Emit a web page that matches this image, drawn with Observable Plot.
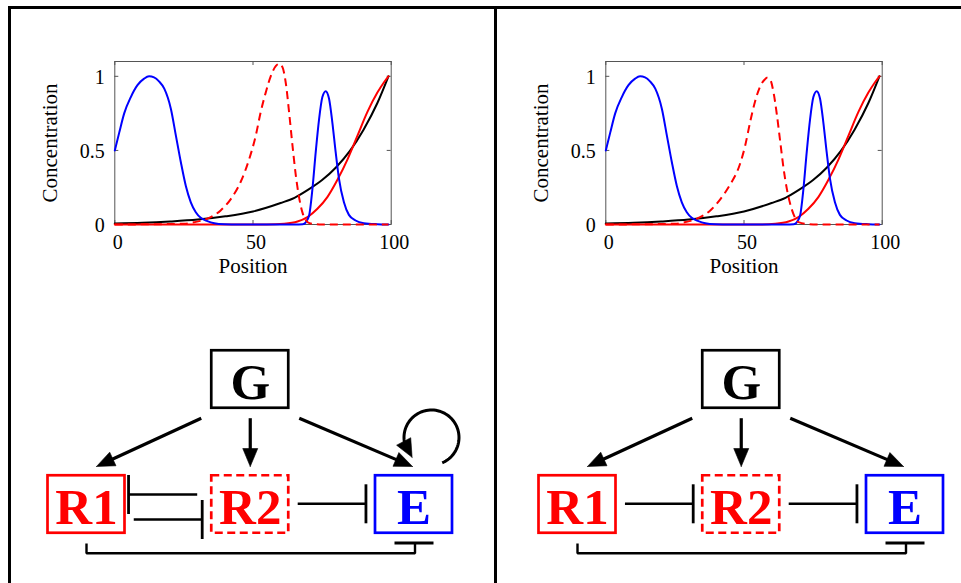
<!DOCTYPE html>
<html><head><meta charset="utf-8">
<script src="https://cdn.jsdelivr.net/npm/d3@7"></script>
<script src="https://cdn.jsdelivr.net/npm/@observablehq/plot@0.6"></script>
<style>
html,body{margin:0;padding:0;background:#fff;}
#root{position:relative;width:961px;height:583px;overflow:hidden;background:#fff;}
#plots{position:absolute;left:0;top:0;width:961px;height:583px;}
#plots svg{background:transparent !important;overflow:visible;max-width:none !important;}
#plots svg text{font-family:"Liberation Serif","Times New Roman",Times,serif !important;}
.bline{position:absolute;background:#000;}
</style></head><body>
<div id="root">
  <div id="plots"></div>
  <div class="bline" style="left:7.5px;top:6px;width:953.5px;height:3px"></div>
  <div class="bline" style="left:7.5px;top:6px;width:3px;height:577px"></div>
  <div class="bline" style="left:493.5px;top:6px;width:3px;height:577px"></div>
</div>
<script>
// ---------------- DATA ----------------
const xTicks = [0, 50, 100];
const yTicks = [0, 0.5, 1];
const xLabel = "Position";
const yLabel = "Concentration";

const blackX = [0, 10, 20, 30, 40, 50, 60, 65, 70, 75, 80, 85, 90, 95, 99];
const blackY = [0.006, 0.011, 0.02, 0.033, 0.055, 0.088, 0.145, 0.18, 0.235, 0.30, 0.385, 0.495, 0.64, 0.82, 1.0];

const redX = [0, 55, 61.3, 66.1, 69.7, 73.3, 76.9, 80.5, 84.2, 87.8, 91.4, 95.0, 97.4, 99];
const redY = [0, 0, 0.005, 0.02, 0.05, 0.106, 0.185, 0.30, 0.44, 0.60, 0.76, 0.89, 0.96, 1.0];

const blueX = [0, 1.6, 3.4, 5.8, 8.2, 10.6, 12.4, 14.2, 16.0, 17.9, 20.3, 22.1, 23.9, 25.7, 27.5, 29.3, 31.1, 33.5, 36, 39.6, 45, 55, 65, 68.0, 69.1, 70.3, 71.5, 72.7, 73.9, 75.1, 76.3, 77.5, 78.7, 79.9, 81.1, 82.9, 84.7, 87.1, 90.1, 95, 99];
const blueY = [0.50, 0.62, 0.75, 0.86, 0.94, 0.984, 1.0, 0.993, 0.966, 0.917, 0.78, 0.60, 0.42, 0.26, 0.15, 0.083, 0.045, 0.023, 0.009, 0.002, 0, 0, 0, 0.002, 0.015, 0.06, 0.24, 0.49, 0.71, 0.86, 0.90, 0.85, 0.69, 0.49, 0.31, 0.15, 0.065, 0.027, 0.009, 0.002, 0];

const dashLeftX = [0, 25, 28.7, 33.5, 38.3, 41.9, 45.6, 48.6, 51.0, 52.8, 54.6, 56.4, 58.3, 59.5, 60.7, 61.9, 63.1, 64.3, 65.5, 66.7, 67.9, 69.1, 70.5, 75, 99];
const dashLeftY = [0, 0.005, 0.015, 0.04, 0.095, 0.17, 0.29, 0.44, 0.60, 0.76, 0.89, 1.0, 1.07, 1.085, 1.06, 0.95, 0.75, 0.53, 0.33, 0.18, 0.08, 0.03, 0.008, 0, 0];

const dashRightX = [0, 25, 28.5, 33.0, 37.8, 41.4, 45.0, 48.4, 50.4, 52.2, 54.0, 55.8, 57.6, 58.3, 59.4, 60.7, 61.9, 63.1, 64.3, 65.5, 66.7, 67.9, 69.7, 75, 99];
const dashRightY = [0, 0.005, 0.015, 0.04, 0.095, 0.17, 0.27, 0.40, 0.53, 0.69, 0.83, 0.93, 0.98, 0.99, 0.98, 0.89, 0.74, 0.56, 0.38, 0.24, 0.14, 0.07, 0.016, 0, 0];

const nodeNames = ["G", "R1", "R2", "E"];
const nodeCol = [1, 0, 1, 2];
const nodeRow = [0, 1, 1, 1];
const activationsLeft = [["G", "R1"], ["G", "R2"], ["G", "E"], ["E", "E"]];
const inhibitionsLeft = [["R2", "R1"], ["R1", "R2"], ["R2", "E"], ["R1", "E"]];
const activationsRight = [["G", "R1"], ["G", "R2"], ["G", "E"]];
const inhibitionsRight = [["R1", "R2"], ["R2", "E"], ["R1", "E"]];

// ---------------- STYLE / LAYOUT ----------------
const FONT = '"Liberation Serif", "Times New Roman", Times, serif';
const AXIS_GRAY = "#555555";
const seriesColor = {black: "#000000", red: "#ff0000", blue: "#0000ff", dash: "#ff0000"};
const nodeColor = {G: "#000000", R1: "#ff0000", R2: "#ff0000", E: "#0000ff"};
const dashedNodes = new Set(["R2"]);
const tipShift = {R1: 10, R2: 0, E: -1.5};
const panelLeft = [0, 491];

const plots = document.getElementById("plots");
function place(el, left, top) {
  el.style.position = "absolute";
  el.style.left = left + "px";
  el.style.top = top + "px";
  el.style.maxWidth = "none";
  el.style.fontFamily = FONT;
  el.style.background = "transparent";
  plots.appendChild(el);
}

function chart(dashX, dashY) {
  const W = 470, H = 290, ML = 114.3, MR = 79.3, MT = 61, MB = 66;
  const FW = W - ML - MR, FH = H - MT - MB;
  const table = (key, xs, ys) => xs.map((x, i) => ({key, x, y: ys[i]}));
  const solid = [...table("black", blackX, blackY), ...table("red", redX, redY), ...table("blue", blueX, blueY)];
  const dashed = table("dash", dashX, dashY);
  return Plot.plot({
    width: W, height: H, marginLeft: ML, marginRight: MR, marginTop: MT, marginBottom: MB,
    style: {background: "transparent", fontFamily: FONT, fontSize: "20px", overflow: "visible"},
    x: {domain: [0, 100]},
    y: {domain: [0, 1.1]},
    color: {type: "identity"},
    marks: [
      Plot.frame({stroke: AXIS_GRAY, strokeWidth: 1}),
      Plot.tickX(xTicks, {x: d => d, insetTop: FH - 4, stroke: AXIS_GRAY}),
      Plot.tickX(xTicks, {x: d => d, insetBottom: FH - 4, stroke: AXIS_GRAY}),
      Plot.tickY(yTicks, {y: d => d, insetRight: FW - 4, stroke: AXIS_GRAY}),
      Plot.tickY(yTicks, {y: d => d, insetLeft: FW - 4, stroke: AXIS_GRAY}),
      Plot.line(solid, {x: "x", y: "y", z: "key", stroke: d => seriesColor[d.key], strokeWidth: 2, curve: "monotone-x"}),
      Plot.line(dashed, {x: "x", y: "y", stroke: seriesColor.dash, strokeWidth: 2, strokeDasharray: "8,5", strokeLinecap: "butt", curve: "monotone-x"}),
      Plot.axisX({ticks: xTicks, tickSize: 0, tickPadding: 10, dx: 3, fontSize: 20, fontFamily: FONT, label: null, tickFormat: d => String(d)}),
      Plot.axisY({ticks: yTicks, tickSize: 0, tickPadding: 10, dy: 1, fontSize: 20, fontFamily: FONT, label: null, tickFormat: d => String(d)}),
      Plot.text([xLabel], {frameAnchor: "bottom", text: d => d, dy: 42, fontSize: 21, fontFamily: FONT, lineAnchor: "middle", textAnchor: "middle"}),
      Plot.text([yLabel], {frameAnchor: "left", text: d => d, dx: -64.3, rotate: -90, fontSize: 21, fontFamily: FONT, lineAnchor: "middle", textAnchor: "middle"})
    ]
  });
}

function network(activations, inhibitions) {
  const W = 470, H = 283;
  const xDomain = [0, 2], xRange = [86, 413.5];
  const yDomain = [0, 1], yRange = [79, 204];
  const sx = d3.scaleLinear(xDomain, xRange);
  const sy = d3.scaleLinear(yDomain, yRange);
  const idx = n => nodeNames.indexOf(n);
  const cx = n => sx(nodeCol[idx(n)]);
  const cy = n => sy(nodeRow[idx(n)]);
  const P = (px, py, extra = {}) => ({x: sx.invert(px), y: sy.invert(py), ...extra});
  const HW = 38.5, HH = 28.75, OUT = 39.75;

  const nodes = nodeNames.map((n, i) => ({
    n, col: nodeCol[i], row: nodeRow[i], color: nodeColor[n], dashed: dashedNodes.has(n),
    x1: sx.invert(sx(nodeCol[i]) - HW), x2: sx.invert(sx(nodeCol[i]) + HW),
    y1: sy.invert(sy(nodeRow[i]) - HH), y2: sy.invert(sy(nodeRow[i]) + HH)
  }));

  const shafts = [], heads = [], arcs = [], inhLines = [], bars = [], brackets = [];
  let hid = 0;
  function head(tip, dir, len, half) {
    const id = "h" + (hid++);
    const bx = tip[0] - dir[0] * len, by = tip[1] - dir[1] * len;
    const px = -dir[1], py = dir[0];
    heads.push(P(tip[0], tip[1], {id}));
    heads.push(P(bx + px * half, by + py * half, {id}));
    heads.push(P(bx - px * half, by - py * half, {id}));
    heads.push(P(tip[0], tip[1], {id}));
  }
  for (const [s, t] of activations) {
    if (s !== t) {
      const sign = Math.sign(nodeCol[idx(t)] - nodeCol[idx(s)]);
      const start = [cx(s) + sign * 49, cy(s) + 38.7];
      const tip = [cx(t) + tipShift[t], cy(t) - 38];
      const dx = tip[0] - start[0], dy = tip[1] - start[1];
      const L = Math.hypot(dx, dy);
      const dir = [dx / L, dy / L];
      const end = [tip[0] - dir[0] * 15, tip[1] - dir[1] * 15];
      shafts.push({...P(start[0], start[1]), x2: sx.invert(end[0]), y2: sy.invert(end[1])});
      head(tip, dir, 18, 7.5);
    } else {
      const c = [cx(s) + 17.5, cy(s) - 67], r = 27.5;
      const id = "arc" + s;
      for (let a = 67; a >= -190; a -= 4) {
        const th = a * Math.PI / 180;
        arcs.push(P(c[0] + r * Math.cos(th), c[1] + r * Math.sin(th), {id}));
      }
      const thE = -192 * Math.PI / 180;
      const base = [c[0] + r * Math.cos(thE), c[1] + r * Math.sin(thE)];
      arcs.push(P(base[0], base[1], {id}));
      const hd = 62 * Math.PI / 180;
      const dir = [Math.cos(hd), Math.sin(hd)];
      const tip = [base[0] + dir[0] * 16, base[1] + dir[1] * 16];
      head(tip, dir, 18, 8);
    }
  }
  const has = (a, b) => inhibitions.some(([s, t]) => s === a && t === b);
  for (const [s, t] of inhibitions) {
    const dc = nodeCol[idx(t)] - nodeCol[idx(s)];
    if (Math.abs(dc) === 1) {
      const sign = Math.sign(dc);
      let lane = -0.7, g0 = 7.7, g1 = 8.3;
      if (has(t, s)) {
        if (sign < 0) { lane = -10; g0 = 13.3; g1 = 2.3; }
        else { lane = 15; g0 = 7.5; g1 = 8.3; }
      }
      const y = cy(s) + lane;
      const x0 = cx(s) + sign * (OUT + g0);
      const x1 = cx(t) - sign * (OUT + g1);
      inhLines.push({...P(x0, y), x2: sx.invert(x1), y2: sy.invert(y)});
      bars.push({...P(x1, y - 19.5), x2: sx.invert(x1), y2: sy.invert(y + 19.5)});
    } else {
      const xs = cx(s), xt = cx(t) + 1;
      const yTop = cy(s) + 39, yBot = cy(s) + 48.7;
      const id = "br" + s + t;
      brackets.push(P(xs, yTop, {id}), P(xs, yBot, {id}), P(xt, yBot, {id}), P(xt, yTop, {id}));
      bars.push({...P(xt - 20.5, yTop - 0.5), x2: sx.invert(xt + 18.5), y2: sy.invert(yTop - 0.5)});
    }
  }

  return Plot.plot({
    width: W, height: H,
    style: {background: "transparent", fontFamily: FONT, overflow: "visible"},
    x: {domain: xDomain, range: xRange, axis: null},
    y: {domain: yDomain, range: yRange, axis: null},
    color: {type: "identity"},
    marks: [
      Plot.rect(nodes.filter(d => !d.dashed), {x1: "x1", x2: "x2", y1: "y1", y2: "y2", fill: "none", stroke: "color", strokeWidth: 2.7}),
      Plot.rect(nodes.filter(d => d.dashed), {x1: "x1", x2: "x2", y1: "y1", y2: "y2", fill: "none", stroke: "color", strokeWidth: 2.7, strokeDasharray: "8,4.5"}),
      Plot.text(nodes, {x: "col", y: "row", text: "n", fill: "color", fontSize: 51, fontWeight: "bold", fontFamily: FONT, lineAnchor: "middle", dy: 3.5}),
      Plot.link(shafts, {x1: "x", y1: "y", x2: "x2", y2: "y2", stroke: "#000", strokeWidth: 3.2}),
      Plot.line(arcs, {x: "x", y: "y", z: "id", stroke: "#000", strokeWidth: 3, curve: "linear", strokeLinecap: "butt"}),
      Plot.line(heads, {x: "x", y: "y", z: "id", fill: "#000", stroke: "#000", strokeWidth: 0.6, curve: "linear"}),
      Plot.link(inhLines, {x1: "x", y1: "y", x2: "x2", y2: "y2", stroke: "#000", strokeWidth: 2.4}),
      Plot.link(bars, {x1: "x", y1: "y", x2: "x2", y2: "y2", stroke: "#000", strokeWidth: 2.8}),
      Plot.line(brackets, {x: "x", y: "y", z: "id", stroke: "#000", strokeWidth: 2.4, curve: "linear", strokeLinejoin: "miter", strokeLinecap: "butt"})
    ]
  });
}

place(chart(dashLeftX, dashLeftY), panelLeft[0], 0);
place(chart(dashRightX, dashRightY), panelLeft[1], 0);
place(network(activationsLeft, inhibitionsLeft), panelLeft[0], 300);
place(network(activationsRight, inhibitionsRight), panelLeft[1], 300);
</script>
</body></html>
